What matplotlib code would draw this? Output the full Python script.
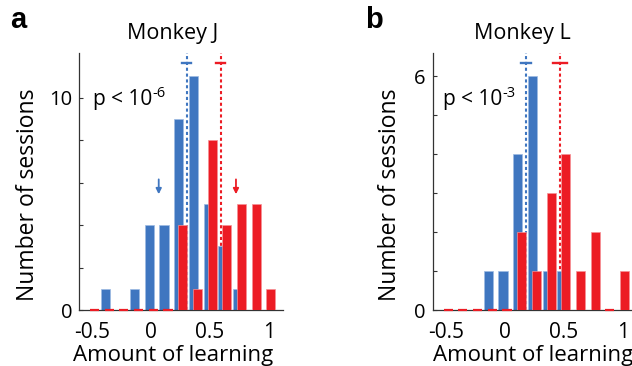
import numpy as np
import matplotlib
matplotlib.use('Agg')
import matplotlib.pyplot as plt

plt.rcParams['font.family'] = ['Open Sans', 'DejaVu Sans']

# histogram bin centres (amount of learning)
bins = [-0.5, -0.375, -0.25, -0.125, 0.0, 0.125, 0.25, 0.375, 0.5, 0.625, 0.75, 0.875, 1.0]

# session counts per bin
j_blue = [0, 1, 0, 1, 4, 4, 9, 11, 5, 3, 1, 0, 0]
j_red = [0, 0, 0, 0, 0, 0, 4, 1, 8, 4, 5, 5, 1]
l_blue = [0, 0, 0, 1, 1, 4, 6, 1, 1, 0, 0, 0, 0]
l_red = [0, 0, 0, 0, 0, 2, 1, 3, 4, 1, 2, 0, 1]

# means and their error (dotted lines with error bar at top)
j_means = [0.30, 0.59]
j_err = [0.038, 0.038]
l_means = [0.177, 0.47]
l_err = [0.042, 0.058]

# arrows in monkey J
j_arrows = [0.063, 0.72]

blue = '#3F76C0'
red = '#EC1C24'
blue_edge = '#9DBBE3'
red_edge = '#F59196'

w = 0.077
off = 0.017


def draw(ax, blue_counts, red_counts, means, errs, ymax, yticks, ylabels, pexp, ppos):
    x = np.array(bins)
    b = np.array(blue_counts)
    r = np.array(red_counts)
    for m, e, c in zip(means, errs, [blue, red]):
        ax.plot([m, m], [0, ymax], color=c, lw=1.5, ls=(0, (1.5, 1.3)), zorder=1)
        ax.plot([m - e, m + e], [ymax * 0.962, ymax * 0.962], color=c, lw=1.7, zorder=1)
    nz = b > 0
    ax.bar(x[nz] - off, b[nz], width=w, color=blue, edgecolor=blue_edge, linewidth=0.5, zorder=2)
    nz = r > 0
    ax.bar(x[nz] + off, r[nz], width=w, color=red, edgecolor=red_edge, linewidth=0.5, zorder=3)
    z = r == 0
    ax.hlines(np.zeros(z.sum()), x[z] + off - w / 2, x[z] + off + w / 2, color=red, lw=1.6,
              zorder=4, clip_on=False)

    ax.set_xlim(-0.615, 1.12)
    ax.set_ylim(0, ymax)
    ax.spines['top'].set_visible(False)
    ax.spines['right'].set_visible(False)
    for s in ['left', 'bottom']:
        ax.spines[s].set_color('#333333')
        ax.spines[s].set_linewidth(0.9)
    ax.set_xticks([-0.5, 0, 0.5, 1])
    ax.set_xticklabels(['-0.5', '0', '0.5', '1'])
    ax.set_yticks(yticks)
    ax.set_yticklabels(ylabels)
    ax.tick_params(axis='both', direction='in', colors='#333333', labelcolor='black')
    ax.tick_params(axis='x', length=0, pad=9, labelsize=15)
    ax.tick_params(axis='y', length=3, pad=5, labelsize=14.5)

    t = ax.text(ppos[0], ppos[1], 'p < 10', fontsize=15, va='center')
    ax.annotate(pexp, xy=(1, 0.78), xycoords=t, fontsize=10.5, ha='left', va='center')
    ax.set_xlabel('Amount of learning', fontsize=16)
    ax.set_ylabel('Number of sessions', fontsize=16.5)


fig = plt.figure(figsize=(6.32, 3.66), dpi=100)
ax1 = fig.add_axes([79 / 632, 56 / 366, 204 / 632, 257 / 366])
ax2 = fig.add_axes([432.7 / 632, 56 / 366, 204 / 632, 257 / 366])

draw(ax1, j_blue, j_red, j_means, j_err, 12.1, [0, 2, 4, 6, 8, 10],
     ['0', '', '', '', '', '10'], '-6', (-0.495, 9.9))
draw(ax2, l_blue, l_red, l_means, l_err, 6.6, [0, 1, 2, 3, 4, 5, 6],
     ['0', '', '', '', '', '', '6'], '-3', (-0.53, 5.4))

for xa in j_arrows:
    c = blue if xa < 0.4 else red
    ax1.annotate('', xy=(xa, 5.45), xytext=(xa, 6.15),
                 arrowprops=dict(arrowstyle='-|>', color=c, lw=1.3, mutation_scale=8,
                                 shrinkA=0, shrinkB=0))

ax1.xaxis.set_label_coords(0.46, -0.135)
ax2.xaxis.set_label_coords(0.49, -0.135)
ax1.yaxis.set_label_coords(-0.19, 0.45)
ax2.yaxis.set_label_coords(-0.15, 0.45)

ax1.set_title('Monkey J', fontsize=15.5, x=0.46, pad=10)
ax2.set_title('Monkey L', fontsize=15.5, x=0.44, pad=10)

fig.text(10 / 632, 1 - 20 / 366, 'a', fontsize=21, fontweight='bold', va='center',
         family='Liberation Sans')
fig.text(365 / 632, 1 - 20 / 366, 'b', fontsize=21, fontweight='bold', va='center',
         family='Liberation Sans')

fig.savefig('out.png', dpi=100)
